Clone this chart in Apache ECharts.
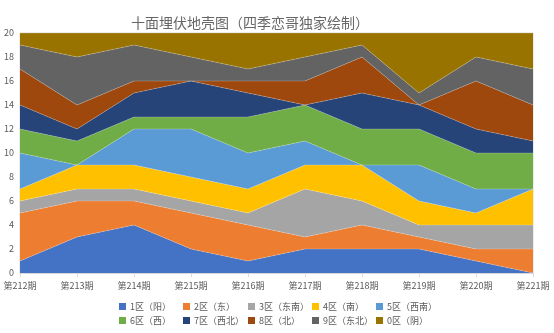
<!DOCTYPE html>
<html><head><meta charset="utf-8">
<script src="https://cdn.jsdelivr.net/npm/echarts@6/dist/echarts.min.js"></script>
<style>html,body{margin:0;padding:0;background:#fff}#c{width:554px;height:333px}</style>
</head><body><div id="c"></div>
<script>
const categories = ['第212期','第213期','第214期','第215期','第216期','第217期','第218期','第219期','第220期','第221期'];
const names = ['1区（阳）','2区（东）','3区（东南）','4区（南）','5区（西南）','6区（西）','7区（西北）','8区（北）','9区（东北）','0区（阴）'];
const s1 = [1,3,4,2,1,2,2,2,1,0];
const s2 = [4,3,2,3,3,1,2,1,1,2];
const s3 = [1,1,1,1,1,4,2,1,2,2];
const s4 = [1,2,2,2,2,2,3,2,1,3];
const s5 = [3,0,3,4,3,2,0,3,2,0];
const s6 = [2,2,1,1,3,3,3,3,3,3];
const s7 = [2,1,2,3,2,0,3,2,2,1];
const s8 = [3,2,1,0,1,2,3,0,4,3];
const s9 = [2,4,3,2,1,2,1,1,2,3];
const s0 = [1,2,1,2,3,2,1,5,2,3];
const yTicks = [0,2,4,6,8,10,12,14,16,18,20];
const colors = ['#4472C4','#ED7D31','#A5A5A5','#FFC000','#5B9BD5','#70AD47','#264478','#9E480E','#636363','#997300'];
const allData = [s1,s2,s3,s4,s5,s6,s7,s8,s9,s0];

const chart = echarts.init(document.getElementById('c'));
const font = '"Noto Sans CJK SC", "Noto Sans", sans-serif';
const colLeft = [119, 183, 248, 312, 376];
const rowTop = [302, 316];
const legends = names.map((n, i) => ({
  left: colLeft[i % 5], top: rowTop[Math.floor(i / 5)], padding: 0,
  itemWidth: 7, itemHeight: 7, itemGap: 0, icon: 'rect', data: [n],
  textStyle: {fontSize: 9, color: '#595959', fontFamily: font, padding: [0,0,0,-1]}
}));
chart.setOption({
  animation: false,
  color: colors,
  title: {text: '十面埋伏地壳图（四季恋哥独家绘制）', left: 245, textAlign: 'center', top: 11,
    textStyle: {fontSize: 14, fontWeight: 'normal', color: '#666666', fontFamily: font}},
  legend: legends,
  grid: {left: 20, right: 21, top: 33, bottom: 60, show: true, borderColor: '#d9d9d9', borderWidth: 1, backgroundColor: 'transparent'},
  xAxis: {type: 'category', data: categories, boundaryGap: false,
    axisLine: {lineStyle: {color: '#d9d9d9'}},
    axisTick: {show: true, alignWithLabel: true, length: 4, lineStyle: {color: '#d9d9d9'}},
    axisLabel: {fontSize: 9, color: '#595959', fontFamily: font, margin: 8}},
  yAxis: {type: 'value', min: yTicks[0], max: yTicks[yTicks.length-1], interval: 2,
    axisLine: {show: false}, axisTick: {show: false}, splitLine: {show: false},
    axisLabel: {fontSize: 9, color: '#595959', fontFamily: font, margin: 6}},
  series: allData.map((d, i) => ({
    name: names[i], type: 'line', stack: 'total', data: d,
    symbol: 'none', lineStyle: {width: 0.6, color: 'rgba(255,255,255,0.35)'},
    areaStyle: {color: colors[i], opacity: 1}, itemStyle: {color: colors[i]}
  }))
});
</script></body></html>
